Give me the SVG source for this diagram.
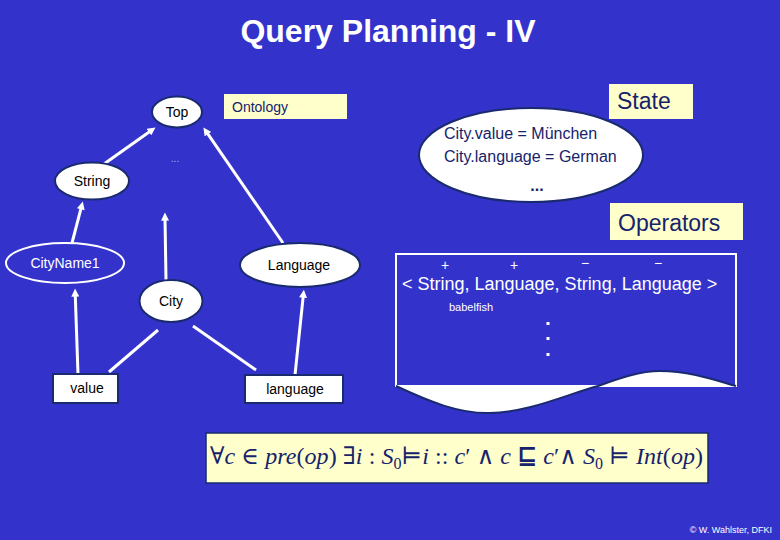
<svg xmlns="http://www.w3.org/2000/svg" width="780" height="540" viewBox="0 0 780 540">
<defs>
<style>
.bg{fill:#3333CC}
.title{font-family:"Liberation Sans",Arial,sans-serif;font-weight:bold;font-size:32px;fill:#fff}
.node{fill:#fff;stroke:#1A2A6E;stroke-width:2}
.lbl{font-family:"Liberation Sans",Arial,sans-serif;font-size:14px;fill:#000}
.tag{fill:#FFFFCC}
.tagt{font-family:"Liberation Sans",Arial,sans-serif;fill:#16236B}
.conn{stroke:#fff;stroke-width:3;fill:none}
.arr{marker-end:url(#ah)}
.wt{font-family:"Liberation Sans",Arial,sans-serif;fill:#fff}
.math{font-family:"Liberation Serif","Times New Roman","DejaVu Serif",serif;font-size:24px;fill:#16236B}
.it{font-style:italic}
</style>
<marker id="ah" viewBox="0 0 10 10" refX="4" refY="5" markerWidth="9" markerHeight="8" markerUnits="userSpaceOnUse" orient="auto">
<path d="M0,0 L10,5 L0,10 z" fill="#fff"/>
</marker>
</defs>
<rect class="bg" x="0" y="0" width="780" height="540"/>
<text class="title" x="388" y="42" text-anchor="middle">Query Planning - IV</text>

<g id="connectors">
<line class="conn arr" x1="104" y1="164" x2="151.6" y2="130.2"/>
<line class="conn arr" x1="283" y1="243" x2="206.1" y2="131.4"/>
<line class="conn arr" x1="72" y1="243" x2="81.6" y2="206.2"/>
<line class="conn arr" x1="166" y1="280" x2="165" y2="217.4"/>
<line class="conn arr" x1="78" y1="374" x2="75.2" y2="293.4"/>
<line class="conn arr" x1="295" y1="375" x2="303.4" y2="294.4"/>
<line class="conn" x1="158" y1="330" x2="109" y2="372"/>
<line class="conn" x1="193" y1="326" x2="256" y2="370"/>
</g>

<g id="top">
<ellipse class="node" cx="177" cy="112" rx="25" ry="15.5"/>
<text class="lbl" x="177" y="117" text-anchor="middle">Top</text>
</g>
<g id="ontology">
<rect class="tag" x="224" y="94" width="123" height="25"/>
<text class="tagt" x="232" y="112" font-size="14">Ontology</text>
</g>
<text x="175" y="162" text-anchor="middle" font-family="Liberation Sans, Arial, sans-serif" font-size="10" fill="#AAB0E8">...</text>
<g id="string">
<ellipse class="node" cx="92" cy="181" rx="37" ry="18.5"/>
<text class="lbl" x="92" y="186" text-anchor="middle">String</text>
</g>
<g id="cityname1">
<ellipse cx="65" cy="263" rx="59" ry="20" fill="#3333CC" stroke="#fff" stroke-width="2"/>
<text class="lbl" x="65" y="268" text-anchor="middle" style="fill:#fff">CityName1</text>
</g>
<g id="city">
<ellipse class="node" cx="171" cy="301" rx="31.5" ry="21"/>
<text class="lbl" x="171" y="306" text-anchor="middle">City</text>
</g>
<g id="language-node">
<ellipse class="node" cx="300" cy="265" rx="60" ry="22"/>
<text class="lbl" x="299" y="270" text-anchor="middle">Language</text>
</g>
<g id="value">
<rect class="node" x="53" y="374" width="65" height="29"/>
<text class="lbl" x="87" y="393" text-anchor="middle">value</text>
</g>
<g id="language-attr">
<rect class="node" x="245" y="375" width="98" height="28"/>
<text class="lbl" x="295" y="394" text-anchor="middle">language</text>
</g>

<g id="state">
<ellipse class="node" cx="531" cy="155" rx="112" ry="47"/>
<text class="tagt" x="444" y="139" font-size="16">City.value = München</text>
<text class="tagt" x="444" y="162" font-size="16">City.language = German</text>
<text class="tagt" x="537" y="191" font-size="16" text-anchor="middle" font-weight="bold">...</text>
</g>
<g id="state-label">
<rect class="tag" x="609" y="84" width="84" height="35"/>
<text class="tagt" x="617" y="109" font-size="23">State</text>
</g>
<g id="operators-label">
<rect class="tag" x="610" y="203" width="133" height="37"/>
<text class="tagt" x="618" y="231" font-size="23">Operators</text>
</g>

<g id="operators">
<rect x="396" y="254" width="340" height="132" fill="none" stroke="#fff" stroke-width="2"/>
<path d="M396,386 C430,402 460,414 490,413 C530,412 565,395 598,386 C620,378 640,371 660,371 C690,371 715,380 736,386 Z" fill="#fff"/>
<path d="M396,386 C430,402 460,414 490,413 C530,412 565,395 598,386 C620,378 640,371 660,371 C690,371 715,380 736,386" fill="none" stroke="#1A2A6E" stroke-width="2"/>
<g class="wt" font-size="14" text-anchor="middle">
<text x="445" y="270">+</text>
<text x="514" y="270">+</text>
<text x="585" y="268">−</text>
<text x="658" y="268">−</text>
</g>
<text class="wt" x="402" y="290" font-size="18">&lt; String, Language, String, Language &gt;</text>
<text class="wt" x="449" y="311" font-size="11">babelfish</text>
<g fill="#fff">
<rect x="546.5" y="322" width="3" height="3"/>
<rect x="546.5" y="337" width="3" height="3"/>
<rect x="546.5" y="353" width="3" height="3"/>
</g>
</g>

<g id="formula">
<rect x="206" y="433" width="502" height="50" fill="#FFFFCC" stroke="#1A2A6E" stroke-width="1.5"/>
<text class="math" x="210" y="464" textLength="493" lengthAdjust="spacing">∀<tspan class="it">c</tspan> ∈ <tspan class="it">pre</tspan>(<tspan class="it">op</tspan>) ∃<tspan class="it">i</tspan> : <tspan class="it">S</tspan><tspan font-size="16" dy="5">0</tspan><tspan dy="-5">⊨</tspan><tspan class="it">i</tspan> :: <tspan class="it">c</tspan>′ ∧ <tspan class="it">c</tspan> <tspan font-weight="bold">⊑</tspan> <tspan class="it">c</tspan>′∧ <tspan class="it">S</tspan><tspan font-size="16" dy="5">0</tspan><tspan dy="-5"> ⊨ </tspan><tspan class="it">Int</tspan>(<tspan class="it">op</tspan>)</text>
</g>

<text class="wt" x="772" y="533" font-size="9" text-anchor="end">© W. Wahlster, DFKI</text>
</svg>
